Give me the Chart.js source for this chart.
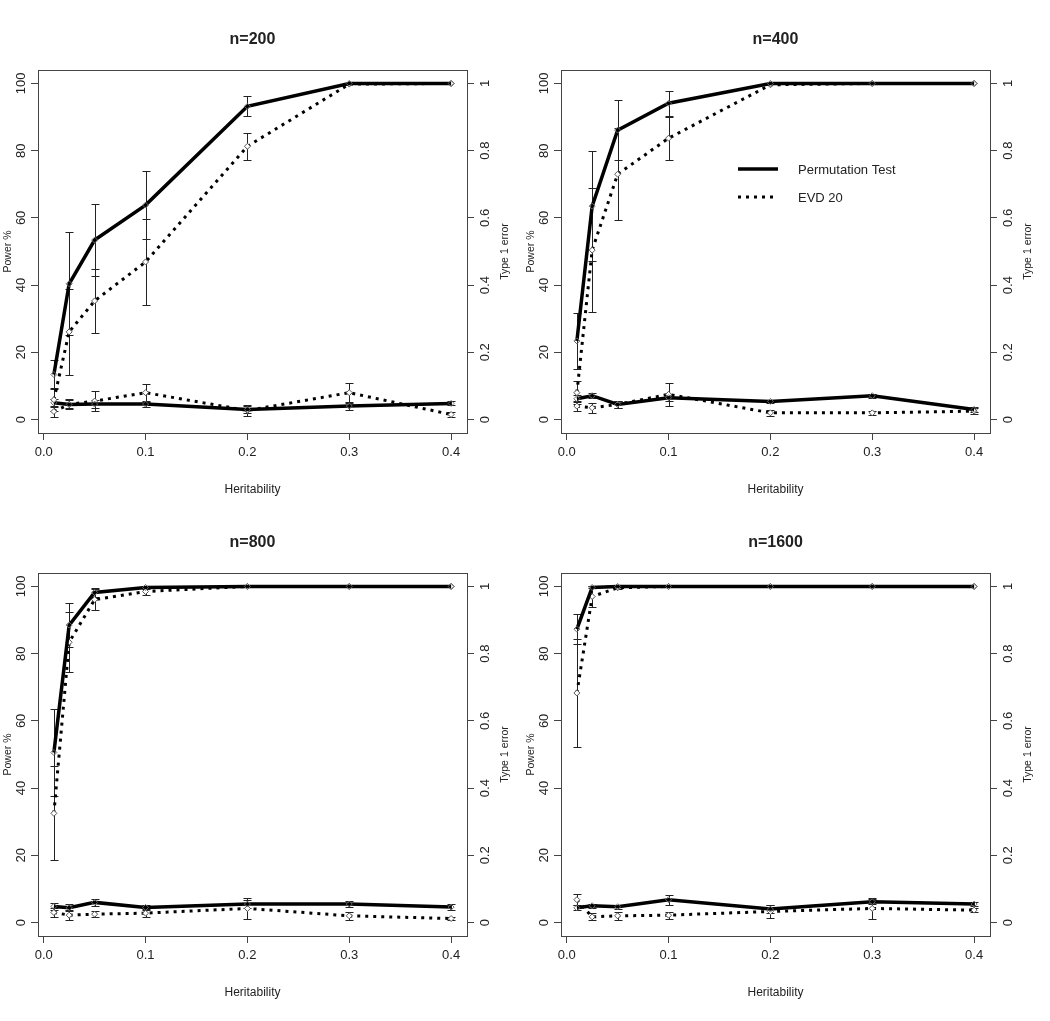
<!DOCTYPE html>
<html>
<head>
<meta charset="utf-8">
<script src="https://cdn.jsdelivr.net/npm/chart.js@4.4.1/dist/chart.umd.min.js"></script>
<style>
body { margin: 0; background: #fff; }
#wrap { position: relative; width: 1050px; height: 1021px; }
canvas { position: absolute; }
</style>
</head>
<body>
<div id="wrap">
<canvas id="c200" width="523" height="503" style="left:0;top:0"></canvas>
<canvas id="c400" width="523" height="503" style="left:523px;top:0"></canvas>
<canvas id="c800" width="523" height="503" style="left:0;top:503px"></canvas>
<canvas id="c1600" width="523" height="503" style="left:523px;top:503px"></canvas>
</div>
<script>
// heritability levels on the x axis
const heritability = [0.01, 0.025, 0.05, 0.1, 0.2, 0.3, 0.4];
const xTicks = [0.0, 0.1, 0.2, 0.3, 0.4];
const powerTicks = [0, 20, 40, 60, 80, 100];
const errorTicks = [0, 0.2, 0.4, 0.6, 0.8, 1];

// power (%), left axis
const powerPerm200 = [13.4, 40.4, 53.4, 63.8, 93.2, 100, 100];
const powerPermErr200 = [4.2, 15.3, 10.7, 10.1, 3.0, 0, 0];
const powerEvd200 = [5.9, 26.1, 35.3, 46.9, 81.3, 99.8, 100];
const powerEvdErr200 = [3.5, 12.7, 9.5, 12.7, 4.1, 0, 0];
const powerPerm400 = [23.4, 63.5, 86.1, 94.1, 100, 100, 100];
const powerPermErr400 = [8.4, 16.3, 9.0, 3.7, 0, 0, 0];
const powerEvd400 = [8.0, 50.4, 73.0, 83.7, 99.6, 100, 100];
const powerEvdErr400 = [3.5, 18.5, 13.7, 6.4, 0, 0, 0];
const powerPerm800 = [50.6, 88.5, 98.2, 99.7, 100, 100, 100];
const powerPermErr800 = [13.0, 6.5, 1.2, 0.5, 0, 0, 0];
const powerEvd800 = [32.5, 83.4, 96.1, 98.5, 100, 100, 100];
const powerEvdErr800 = [14.0, 9.0, 3.0, 1.0, 0, 0, 0];
const powerPerm1600 = [87.3, 99.7, 100, 100, 100, 100, 100];
const powerPermErr1600 = [4.5, 0.3, 0, 0, 0, 0, 0];
const powerEvd1600 = [68.3, 97.0, 99.6, 100, 100, 100, 100];
const powerEvdErr1600 = [16.0, 3.0, 0.3, 0, 0, 0, 0];

// type 1 error (proportion), right axis
const type1Perm200 = [0.050, 0.045, 0.046, 0.046, 0.030, 0.040, 0.048];
const type1PermErr200 = [0.012, 0.012, 0.012, 0.010, 0.010, 0.012, 0.006];
const type1Evd200 = [0.024, 0.045, 0.055, 0.080, 0.027, 0.080, 0.015];
const type1EvdErr200 = [0.015, 0.015, 0.030, 0.027, 0.015, 0.030, 0.008];
const type1Perm400 = [0.062, 0.071, 0.045, 0.065, 0.054, 0.071, 0.030];
const type1PermErr400 = [0.010, 0.008, 0.010, 0.010, 0.005, 0.006, 0.008];
const type1Evd400 = [0.040, 0.035, 0.045, 0.075, 0.020, 0.020, 0.025];
const type1EvdErr400 = [0.015, 0.015, 0.010, 0.035, 0.008, 0.005, 0.008];
const type1Perm800 = [0.048, 0.044, 0.060, 0.045, 0.055, 0.055, 0.046];
const type1PermErr800 = [0.010, 0.010, 0.010, 0.008, 0.012, 0.008, 0.008];
const type1Evd800 = [0.030, 0.022, 0.025, 0.028, 0.042, 0.020, 0.012];
const type1EvdErr800 = [0.012, 0.015, 0.008, 0.012, 0.030, 0.012, 0.005];
const type1Perm1600 = [0.044, 0.050, 0.047, 0.068, 0.040, 0.062, 0.055];
const type1PermErr1600 = [0.008, 0.006, 0.006, 0.015, 0.012, 0.008, 0.006];
const type1Evd1600 = [0.068, 0.017, 0.020, 0.022, 0.033, 0.042, 0.037];
const type1EvdErr1600 = [0.017, 0.010, 0.012, 0.010, 0.020, 0.030, 0.006];

const FONT = '"Liberation Sans", Arial, sans-serif';
const INK = '#222';

function pts(vals) {
    return heritability.map((h, i) => ({ x: h, y: vals[i] }));
}

function rotText(ctx, txt, x, y, size) {
    ctx.save();
    ctx.translate(x, y);
    ctx.rotate(-Math.PI / 2);
    ctx.font = size + 'px ' + FONT;
    ctx.textAlign = 'center';
    ctx.textBaseline = 'middle';
    ctx.fillText(txt, 0, 0);
    ctx.restore();
}

// R-like decorations: error bars, box, rotated y labels, titles, legend
const rPlot = {
    id: 'rPlot',
    beforeDatasetsDraw(chart) {
        const ctx = chart.ctx;
        const xs = chart.scales.x;
        ctx.save();
        ctx.strokeStyle = '#222';
        ctx.lineWidth = 1;
        chart.data.datasets.forEach(ds => {
            const ys = chart.scales[ds.yAxisID];
            ds.data.forEach((p, i) => {
                const e = ds.errors[i];
                if (!e) return;
                const px = Math.round(xs.getPixelForValue(p.x)) + 0.5;
                const t = Math.round(ys.getPixelForValue(p.y + e)) + 0.5;
                const b = Math.round(ys.getPixelForValue(p.y - e)) + 0.5;
                ctx.beginPath();
                ctx.moveTo(px, t); ctx.lineTo(px, b);
                ctx.moveTo(px - 4, t); ctx.lineTo(px + 4, t);
                ctx.moveTo(px - 4, b); ctx.lineTo(px + 4, b);
                ctx.stroke();
            });
        });
        ctx.restore();
    },
    afterDraw(chart, args, opts) {
        const ctx = chart.ctx;
        const a = chart.chartArea;
        ctx.save();
        ctx.strokeStyle = '#444';
        ctx.lineWidth = 1;
        ctx.strokeRect(Math.round(a.left) + 0.5, Math.round(a.top) + 0.5,
            Math.round(a.right - a.left), Math.round(a.bottom - a.top));

        ctx.fillStyle = INK;
        const y = chart.scales.y, y2 = chart.scales.y2;
        powerTicks.forEach(v => rotText(ctx, String(v), a.left - 17, y.getPixelForValue(v), 13));
        errorTicks.forEach(v => rotText(ctx, String(v), a.right + 18, y2.getPixelForValue(v), 13));
        rotText(ctx, 'Power %', 8, (a.top + a.bottom) / 2, 10.5);
        rotText(ctx, 'Type 1 error', a.right + 38, (a.top + a.bottom) / 2, 10.5);

        ctx.font = '12px ' + FONT;
        ctx.textAlign = 'center';
        ctx.textBaseline = 'middle';
        ctx.fillText('Heritability', (a.left + a.right) / 2, a.bottom + 57);

        ctx.font = 'bold 16px ' + FONT;
        ctx.fillText(opts.title, (a.left + a.right) / 2, 40);

        if (opts.legend) {
            const lx = a.left + 177, ly = 169;
            ctx.strokeStyle = '#000';
            ctx.lineWidth = 3.5;
            ctx.beginPath(); ctx.moveTo(lx, ly); ctx.lineTo(lx + 40, ly); ctx.stroke();
            ctx.lineWidth = 3;
            ctx.setLineDash([3, 5]);
            ctx.beginPath(); ctx.moveTo(lx, ly + 28); ctx.lineTo(lx + 40, ly + 28); ctx.stroke();
            ctx.setLineDash([]);
            ctx.font = '13px ' + FONT;
            ctx.textAlign = 'left';
            ctx.fillText('Permutation Test', lx + 60, ly + 1);
            ctx.fillText('EVD 20', lx + 60, ly + 29);
        }
        ctx.restore();
    }
};

function solid(vals, errs, axis) {
    return {
        data: pts(vals), errors: errs, yAxisID: axis,
        borderColor: '#000', borderWidth: 3.5,
        pointStyle: 'rectRot', pointRadius: 3, pointBorderWidth: 1,
        pointBorderColor: '#666', pointBackgroundColor: 'rgba(0,0,0,0)'
    };
}

function dotted(vals, errs, axis) {
    return {
        data: pts(vals), errors: errs, yAxisID: axis,
        borderColor: '#000', borderWidth: 3, borderDash: [3, 5],
        pointStyle: 'rectRot', pointRadius: 3, pointBorderWidth: 1,
        pointBorderColor: '#555', pointBackgroundColor: '#fff'
    };
}

function panel(id, title, legend, pPerm, pPermErr, pEvd, pEvdErr, tPerm, tPermErr, tEvd, tEvdErr) {
    const tickGrid = { drawOnChartArea: false, drawTicks: true, tickLength: 7, color: '#444' };
    new Chart(document.getElementById(id), {
        type: 'line',
        data: {
            datasets: [
                solid(pPerm, pPermErr, 'y'),
                dotted(pEvd, pEvdErr, 'y'),
                solid(tPerm, tPermErr, 'y2'),
                dotted(tEvd, tEvdErr, 'y2')
            ]
        },
        options: {
            responsive: false,
            animation: false,
            layout: { padding: { top: 70, left: 0, right: 0, bottom: 0 } },
            plugins: {
                legend: { display: false },
                tooltip: { enabled: false },
                rPlot: { title: title, legend: legend }
            },
            scales: {
                x: {
                    type: 'linear', min: -0.0056, max: 0.4156,
                    afterBuildTicks: s => { s.ticks = xTicks.map(v => ({ value: v })); },
                    afterFit: s => { s.height = 70; },
                    grid: tickGrid,
                    border: { display: false },
                    ticks: {
                        color: INK, padding: 5,
                        font: { family: FONT, size: 13 },
                        callback: v => v.toFixed(1)
                    }
                },
                y: {
                    position: 'left', min: -4, max: 104,
                    afterBuildTicks: s => { s.ticks = powerTicks.map(v => ({ value: v })); },
                    afterFit: s => { s.width = 38; },
                    grid: tickGrid,
                    border: { display: false },
                    ticks: { display: false }
                },
                y2: {
                    position: 'right', min: -0.04, max: 1.04,
                    afterBuildTicks: s => { s.ticks = errorTicks.map(v => ({ value: v })); },
                    afterFit: s => { s.width = 56; },
                    grid: tickGrid,
                    border: { display: false },
                    ticks: { display: false }
                }
            }
        },
        plugins: [rPlot]
    });
}

panel('c200', 'n=200', false,
    powerPerm200, powerPermErr200, powerEvd200, powerEvdErr200,
    type1Perm200, type1PermErr200, type1Evd200, type1EvdErr200);
panel('c400', 'n=400', true,
    powerPerm400, powerPermErr400, powerEvd400, powerEvdErr400,
    type1Perm400, type1PermErr400, type1Evd400, type1EvdErr400);
panel('c800', 'n=800', false,
    powerPerm800, powerPermErr800, powerEvd800, powerEvdErr800,
    type1Perm800, type1PermErr800, type1Evd800, type1EvdErr800);
panel('c1600', 'n=1600', false,
    powerPerm1600, powerPermErr1600, powerEvd1600, powerEvdErr1600,
    type1Perm1600, type1PermErr1600, type1Evd1600, type1EvdErr1600);
</script>
</body>
</html>
